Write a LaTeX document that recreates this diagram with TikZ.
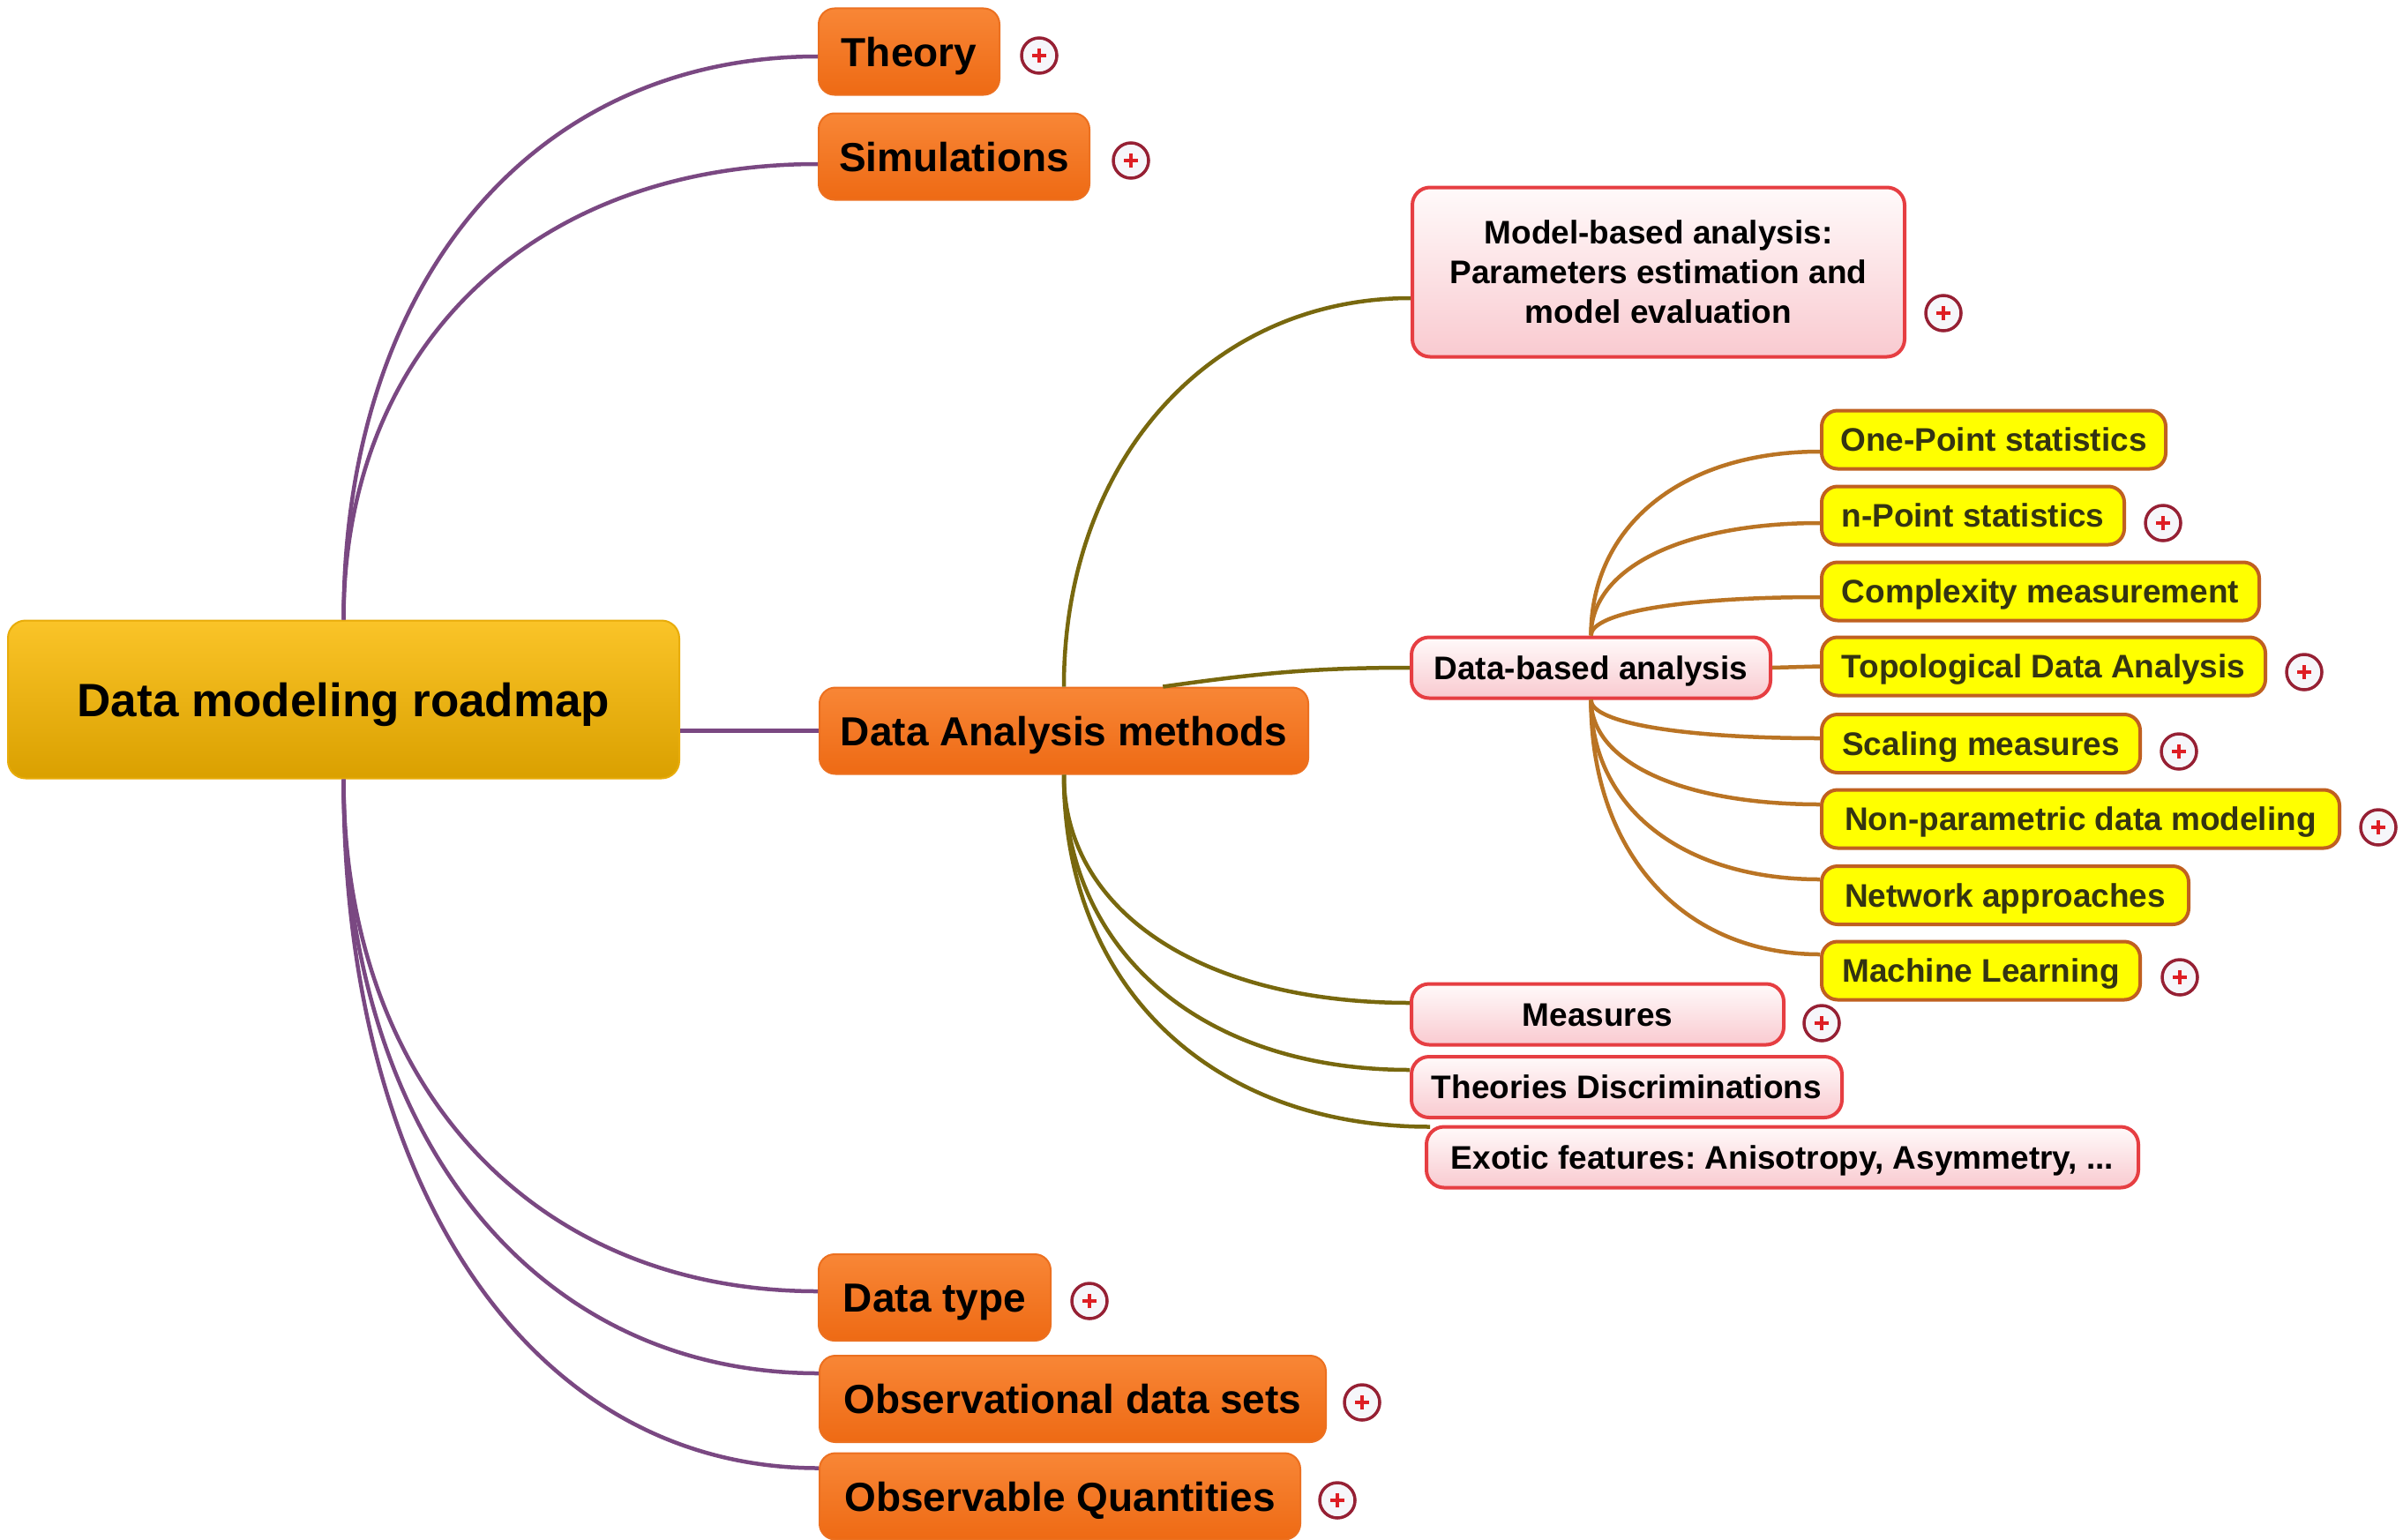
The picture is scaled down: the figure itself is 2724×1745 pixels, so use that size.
\documentclass[tikz,border=0pt]{standalone}
\usepackage{fontspec}
\setmainfont{Liberation Sans}
\usetikzlibrary{calc}
\frenchspacing

\definecolor{linkPurple}{RGB}{122,72,130}
\definecolor{linkOlive}{RGB}{120,104,14}
\definecolor{linkBrown}{RGB}{186,116,36}
\definecolor{orTop}{RGB}{248,134,54}
\definecolor{orBot}{RGB}{238,106,20}
\definecolor{orEdge}{RGB}{236,112,32}
\definecolor{goldTop}{RGB}{250,196,40}
\definecolor{goldBot}{RGB}{218,160,0}
\definecolor{goldEdge}{RGB}{232,172,10}
\definecolor{pinkTop}{RGB}{255,250,250}
\definecolor{pinkBot}{RGB}{249,202,208}
\definecolor{pinkEdge}{RGB}{230,62,66}
\definecolor{yelFill}{RGB}{255,255,0}
\definecolor{yelEdge}{RGB}{192,96,32}
\definecolor{yelText}{RGB}{52,52,18}
\definecolor{plusRim}{RGB}{150,32,52}
\definecolor{plusRed}{RGB}{222,30,36}
\definecolor{plusFill}{RGB}{246,246,250}

\begin{document}
\begin{tikzpicture}[x=1pt,y=1pt,
  % curved branch: leaves the parent vertically, reaches the child horizontally
  hv/.style={to path={let \p1=(\tikztostart), \p2=(\tikztotarget) in
      .. controls (\x1,{\y1+#1*(\y2-\y1)}) and ({\x2+#1*(\x1-\x2)},\y2) .. (\p2) \tikztonodes}},
  hv/.default=0.6,
  % single-line labels centred on their capital height
  capc/.style={text height=#1, text depth=0pt},
  box/.style={rounded corners=18pt, inner sep=0pt, align=center},
  rootbox/.style={box, rounded corners=20pt, top color=goldTop, bottom color=goldBot,
      draw=goldEdge, line width=2pt, capc=38pt, font=\fontsize{53}{60}\selectfont\bfseries},
  orangebox/.style={box, minimum height=98pt, top color=orTop, bottom color=orBot,
      draw=orEdge, line width=2pt, capc=33pt, font=\fontsize{46}{52}\selectfont\bfseries},
  pinkbox/.style={box, rounded corners=20pt, minimum height=69pt, top color=pinkTop, bottom color=pinkBot,
      draw=pinkEdge, line width=4pt, font=\fontsize{37}{45}\selectfont\bfseries},
  yelbox/.style={box, minimum height=66pt, fill=yelFill, draw=yelEdge, line width=4pt,
      text=yelText, capc=26.5pt, font=\fontsize{37}{45}\selectfont\bfseries},
  plusmark/.style={circle, draw=plusRim, line width=3.5pt, fill=plusFill, minimum size=40pt, inner sep=0pt,
      path picture={\draw[plusRed, line width=4.5pt]
        ([xshift=-8pt]path picture bounding box.center) -- ([xshift=8pt]path picture bounding box.center)
        ([yshift=-8pt]path picture bounding box.center) -- ([yshift=8pt]path picture bounding box.center);}},
  purplelink/.style={draw=linkPurple, line width=4.5pt},
  olivelink/.style={draw=linkOlive, line width=4.5pt},
  brownlink/.style={draw=linkBrown, line width=4.5pt},
]
\fill[white] (0,0) rectangle (2724,-1745);
\useasboundingbox (0,0) rectangle (2724,-1745);

% ---------- central topic ----------
\node[rootbox, minimum width=761pt, minimum height=179pt] (root) at (389.5,-793) {Data modeling roadmap};

% ---------- main branches ----------
\node[orangebox, minimum width=205pt] (theory) at (1030.5,-58.5) {Theory};
\node[orangebox, minimum width=307pt] (sim) at (1081.5,-177.5) {Simulations};
\node[orangebox, minimum width=554pt] (dam) at (1206,-828.5) {Data Analysis methods};
\node[orangebox, minimum width=263pt] (dtype) at (1059.5,-1471) {Data type};
\node[orangebox, minimum width=574pt] (obsdata) at (1216,-1586) {Observational data sets};
\node[orangebox, minimum width=545pt] (obsq) at (1201.5,-1696.5) {Observable Quantities};

\node[plusmark] (theoryplus) at (1178,-63) {};
\node[plusmark] (simplus) at (1282,-182) {};
\node[plusmark] (dtypeplus) at (1235,-1475) {};
\node[plusmark] (obsdataplus) at (1544,-1590) {};
\node[plusmark] (obsqplus) at (1516,-1701) {};

% ---------- analysis methods ----------
\node[pinkbox, minimum width=558pt, minimum height=192pt] (model) at (1880,-308.5)
  {Model-based analysis:\\Parameters estimation and\\model evaluation};
\node[plusmark] (modelplus) at (2203,-355) {};
\node[pinkbox, capc=26.5pt, minimum width=407pt] (db) at (1803.5,-757) {Data-based analysis};
\node[pinkbox, capc=26.5pt, minimum width=422pt] (meas) at (1811,-1150) {Measures};
\node[plusmark] (measplus) at (2065,-1160) {};
\node[pinkbox, capc=26.5pt, minimum width=488pt] (theo) at (1844,-1232.5) {Theories Discriminations};
\node[pinkbox, capc=26.5pt, minimum width=807pt] (exotic) at (2020.5,-1312) {Exotic features: Anisotropy, Asymmetry, ...};

% ---------- data-based analysis ----------
\node[yelbox, minimum width=390pt] (onept) at (2260,-498.5) {One-Point statistics};
\node[yelbox, minimum width=343pt] (npt) at (2236.5,-584.5) {n-Point statistics};
\node[plusmark] (nptplus) at (2452,-593) {};
\node[yelbox, minimum width=496pt] (cplx) at (2313,-670.5) {Complexity measurement};
\node[yelbox, minimum width=503pt] (topo) at (2316.5,-755.5) {Topological Data Analysis};
\node[plusmark] (topoplus) at (2612,-762) {};
\node[yelbox, minimum width=361pt] (scal) at (2245.5,-843) {Scaling measures};
\node[plusmark] (scalplus) at (2470,-852) {};
\node[yelbox, minimum width=587pt] (nonpar) at (2358.5,-928.5) {Non-parametric data modeling};
\node[plusmark] (nonparplus) at (2696,-938) {};
\node[yelbox, minimum width=416pt] (netw) at (2273,-1015) {Network approaches};
\node[yelbox, minimum width=361pt] (ml) at (2245.5,-1100.5) {Machine Learning};
\node[plusmark] (mlplus) at (2471,-1108) {};

% ---------- connectors ----------
\draw[purplelink] (root.north) to[hv] ([yshift=-5.5pt]theory.west);
\draw[purplelink] (root.north) to[hv] ([yshift=-8.5pt]sim.west);
\draw[purplelink] (root.east |- dam.west) -- (dam.west);
\draw[purplelink] (root.south) to[hv] ([yshift=7pt]dtype.west);
\draw[purplelink] (root.south) to[hv] ([yshift=29pt]obsdata.west);
\draw[purplelink] (root.south) to[hv] ([yshift=32pt]obsq.west);

\draw[olivelink] (dam.north) to[hv=0.58] ([yshift=-29.5pt]model.west);
\draw[olivelink] (dam.24) to[out=8,in=180] (db.west);
\draw[olivelink] (dam.south) to[hv] ([yshift=13pt]meas.west);
\draw[olivelink] (dam.south) to[hv] ([yshift=19.5pt]theo.west);
\draw[olivelink] (dam.south) to[hv] ([xshift=6pt,yshift=-2pt]exotic.north west);

\draw[brownlink] (db.north) to[hv] ([yshift=-13.5pt]onept.west);
\draw[brownlink] (db.north) to[hv] ([yshift=-8.5pt]npt.west);
\draw[brownlink] (db.north) to[hv] ([yshift=-6.5pt]cplx.west);
\draw[brownlink] (db.east) -- (topo.west);
\draw[brownlink] (db.south) to[hv] ([yshift=6pt]scal.west);
\draw[brownlink] (db.south) to[hv] ([yshift=16.5pt]nonpar.west);
\draw[brownlink] (db.south) to[hv] ([yshift=18pt]netw.west);
\draw[brownlink] (db.south) to[hv] ([yshift=18.5pt]ml.west);
\end{tikzpicture}
\end{document}
